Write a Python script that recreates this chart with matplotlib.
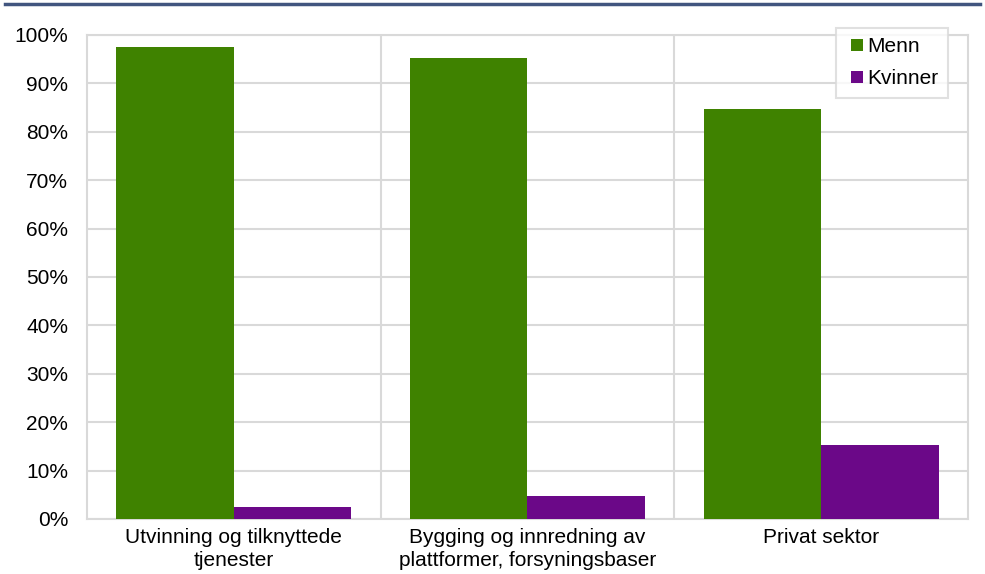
import matplotlib
matplotlib.use("Agg")
import matplotlib.pyplot as plt
from matplotlib.lines import Line2D
from matplotlib.patches import Rectangle
from matplotlib.legend_handler import HandlerPatch, update_from_first_child
from matplotlib.container import BarContainer
import numpy as np

categories = ["Utvinning og tilknyttede\ntjenester",
              "Bygging og innredning av\nplattformer, forsyningsbaser",
              "Privat sektor"]
menn = [97.5, 95.2, 84.8]
kvinner = [2.5, 4.8, 15.2]
series_names = ["Menn", "Kvinner"]
yticks = [0, 10, 20, 30, 40, 50, 60, 70, 80, 90, 100]

plt.rcParams['font.family'] = ['Liberation Sans', 'DejaVu Sans']
fig = plt.figure(figsize=(9.85, 5.74), dpi=100)
ax = fig.add_axes([87/985, 1 - 519/574, (968-87)/985, (519-35)/574])

green = "#3f8200"
purple = "#6b0888"
grid = "#d9d9d9"
fs = 15
x = np.arange(len(categories))
w = 0.4
ax.bar(x - w/2, menn, w, color=green, label=series_names[0], zorder=3)
ax.bar(x + w/2, kvinner, w, color=purple, label=series_names[1], zorder=3)

ax.set_xlim(-0.5, len(categories) - 0.5)
ax.set_ylim(0, 100)
ax.set_yticks(yticks)
ax.set_yticklabels([f"{v}%" for v in yticks])
ax.set_xticks(x)
ax.set_xticklabels(categories, linespacing=1.25)
ax.set_xticks([i + 0.5 for i in range(len(categories) - 1)], minor=True)
ax.grid(axis='y', color=grid, linewidth=1.5, zorder=0)
ax.grid(axis='x', which='minor', color=grid, linewidth=1.5, zorder=0)
ax.tick_params(axis='both', which='both', length=0, labelsize=fs, colors='black')
ax.tick_params(axis='y', pad=13.5)
ax.tick_params(axis='x', pad=6.5)
for s in ax.spines.values():
    s.set_color(grid)
    s.set_linewidth(1.5)


def square_patch(legend, orig_handle, xdescent, ydescent, width, height, fontsize):
    return Rectangle((width - height - xdescent, -ydescent), height, height)


leg = ax.legend(loc='upper right', bbox_to_anchor=(948/985, 1 - 28/574),
                bbox_transform=fig.transFigure, fontsize=fs,
                frameon=True, fancybox=False, edgecolor=grid,
                handlelength=0.85, handleheight=0.55, handletextpad=0.2,
                borderpad=0.45, labelspacing=0.62, borderaxespad=0,
                handler_map={BarContainer: HandlerPatch(patch_func=square_patch,
                                                        update_func=update_from_first_child)})
leg.get_frame().set_linewidth(1.5)

fig.add_artist(Line2D([5/985, 980/985], [1 - 4/574, 1 - 4/574],
                      transform=fig.transFigure, color="#41557f", linewidth=2.5))

fig.savefig("out.png", dpi=100)
